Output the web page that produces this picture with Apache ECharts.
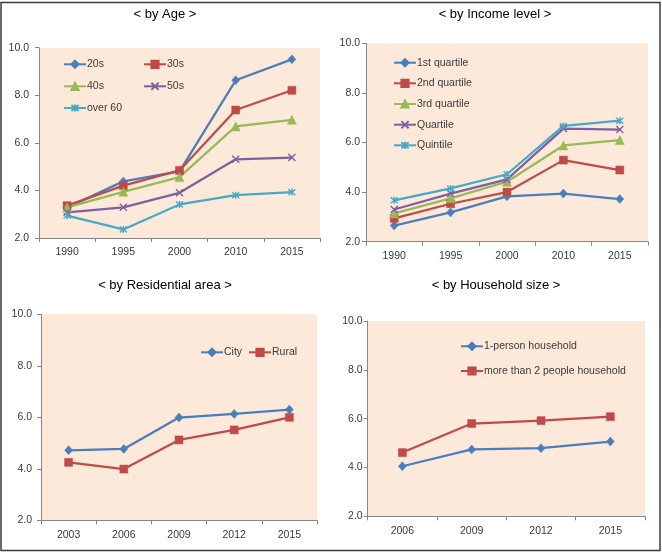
<!DOCTYPE html>
<html>
<head>
<meta charset="utf-8">
<script src="https://cdn.jsdelivr.net/npm/echarts@6/dist/echarts.min.js"></script>
<style>
html,body{margin:0;padding:0;background:#fff;}
#chart{width:662px;height:553px;}
</style>
</head>
<body>
<div id="chart"></div>
<script>
// ---- Data ----
const yTicks = [2, 4, 6, 8, 10];

const ageCats = ['1990', '1995', '2000', '2010', '2015'];
const age20s = [3.28, 4.38, 4.80, 8.63, 9.51];
const age30s = [3.36, 4.20, 4.84, 7.38, 8.21];
const age40s = [3.29, 3.94, 4.56, 6.69, 6.97];
const age50s = [3.08, 3.29, 3.90, 5.31, 5.38];
const ageOver60 = [2.94, 2.36, 3.41, 3.80, 3.93];

const incCats = ['1990', '1995', '2000', '2010', '2015'];
const inc1st = [2.65, 3.18, 3.83, 3.94, 3.72];
const inc2nd = [2.94, 3.53, 4.00, 5.29, 4.89];
const inc3rd = [3.14, 3.75, 4.42, 5.88, 6.10];
const incQuartile = [3.30, 3.94, 4.51, 6.56, 6.52];
const incQuintile = [3.67, 4.15, 4.72, 6.67, 6.88];

const resCats = ['2003', '2006', '2009', '2012', '2015'];
const resCity = [4.72, 4.77, 5.99, 6.13, 6.30];
const resRural = [4.25, 3.99, 5.12, 5.51, 6.00];

const hhCats = ['2006', '2009', '2012', '2015'];
const hh1 = [4.05, 4.74, 4.79, 5.06];
const hh2 = [4.61, 5.80, 5.92, 6.08];

// ---- Styles ----
const FONT = 'Liberation Sans';
const C = {
  blue: '#4A7EBB', red: '#BE4B48', green: '#98B954', purple: '#7D60A0', cyan: '#46AAC5'
};
const XPATH = 'path://M0,0L10,10M10,0L0,10';
const STARPATH = 'path://M0,0L10,10M10,0L0,10M5,-1L5,11';

function mk(name, data, gi, color, symbol, size) {
  const isPath = symbol.indexOf('path://') === 0;
  return {
    name: name, type: 'line', data: data,
    xAxisIndex: gi, yAxisIndex: gi,
    symbol: symbol, symbolSize: size,
    showAllSymbol: true,
    lineStyle: { color: color, width: 2.25 },
    itemStyle: isPath ? { color: color, borderColor: color, borderWidth: 1.4 } : { color: color, borderColor: color, borderWidth: 0.5 },
    emphasis: { disabled: true },
    animation: false
  };
}

const grids = [
  { left: 39, top: 47.7, width: 281, height: 190.3 },
  { left: 366, top: 43.3, width: 282, height: 198.4 },
  { left: 41, top: 314.3, width: 276, height: 206 },
  { left: 367.7, top: 321, width: 277.3, height: 195.3 }
].map(g => Object.assign(g, { show: true, backgroundColor: '#FDE9DA', borderWidth: 0, containLabel: false, outerBoundsMode: 'none' }));

const cats = [ageCats, incCats, resCats, hhCats];
const yMargins = [10, 6, 9, 5];
const axisColor = '#868686';

const xAxes = cats.map((c, i) => ({
  type: 'category', gridIndex: i, data: c, boundaryGap: true,
  axisLine: { show: true, lineStyle: { color: axisColor, width: 1 } },
  axisTick: { show: true, length: 4, alignWithLabel: false, lineStyle: { color: axisColor } },
  axisLabel: { color: '#3a3a3a', fontSize: 10.5, fontFamily: FONT, margin: 9 },
  splitLine: { show: false }
}));
const yAxes = cats.map((c, i) => ({
  type: 'value', gridIndex: i, min: yTicks[0], max: yTicks[yTicks.length - 1], interval: 2,
  axisLine: { show: true, lineStyle: { color: axisColor, width: 1 } },
  axisTick: { show: true, length: 4, lineStyle: { color: axisColor } },
  axisLabel: { color: '#3a3a3a', fontSize: 10.5, fontFamily: FONT, margin: yMargins[i], formatter: v => v.toFixed(1) },
  splitLine: { show: false }
}));

const series = [
  mk('20s', age20s, 0, C.blue, 'diamond', [8, 9]),
  mk('30s', age30s, 0, C.red, 'rect', 8),
  mk('40s', age40s, 0, C.green, 'triangle', 9),
  mk('50s', age50s, 0, C.purple, XPATH, 7),
  mk('over 60', ageOver60, 0, C.cyan, STARPATH, 7),
  mk('1st quartile', inc1st, 1, C.blue, 'diamond', [8, 9]),
  mk('2nd quartile', inc2nd, 1, C.red, 'rect', 8),
  mk('3rd quartile', inc3rd, 1, C.green, 'triangle', 9),
  mk('Quartile', incQuartile, 1, C.purple, XPATH, 7),
  mk('Quintile', incQuintile, 1, C.cyan, STARPATH, 7),
  mk('City', resCity, 2, C.blue, 'diamond', [8, 9]),
  mk('Rural', resRural, 2, C.red, 'rect', 8),
  mk('1-person household', hh1, 3, C.blue, 'diamond', [8, 9]),
  mk('more than 2 people household', hh2, 3, C.red, 'rect', 8)
];

function leg(name, x, yc) {
  return {
    data: [name], left: x, top: yc - 4.5, padding: 0,
    itemWidth: 22, itemHeight: 9, itemGap: 0,
    selectedMode: false,
    textStyle: { color: '#3a3a3a', fontSize: 10.5, fontFamily: FONT, padding: [0, 0, 0, -4] }
  };
}
const legends = [
  leg('20s', 63, 63.3), leg('30s', 143, 63.3),
  leg('40s', 63, 85.3), leg('50s', 143, 85.3),
  leg('over 60', 63, 107),
  leg('1st quartile', 393, 61.7), leg('2nd quartile', 393, 82.3),
  leg('3rd quartile', 393, 103), leg('Quartile', 393, 123.7),
  leg('Quintile', 393, 144.3),
  leg('City', 200, 351.3), leg('Rural', 248, 351.3),
  leg('1-person household', 460, 345.3),
  leg('more than 2 people household', 460, 370)
];

function ttl(text, cx, cy) {
  return { text: text, left: cx, top: cy - 7.5, textAlign: 'center', padding: 0,
    textStyle: { fontSize: 13, fontWeight: 'normal', color: '#000', fontFamily: FONT } };
}
const titles = [
  ttl('< by Age >', 165, 15.7),
  ttl('< by Income level >', 495, 15.7),
  ttl('< by Residential area >', 165, 286.7),
  ttl('< by Household size >', 496, 286.7)
];

const chart = echarts.init(document.getElementById('chart'), null, { renderer: 'canvas' });
chart.setOption({
  animation: false,
  backgroundColor: '#fff',
  title: titles,
  grid: grids,
  xAxis: xAxes,
  yAxis: yAxes,
  legend: legends,
  series: series,
  graphic: [{
    type: 'rect', silent: true, z: 100,
    shape: { x: 1, y: 2.5, width: 659, height: 548 },
    style: { fill: 'none', stroke: '#3a3a3a', lineWidth: 1.5 }
  }]
});
</script>
</body>
</html>
